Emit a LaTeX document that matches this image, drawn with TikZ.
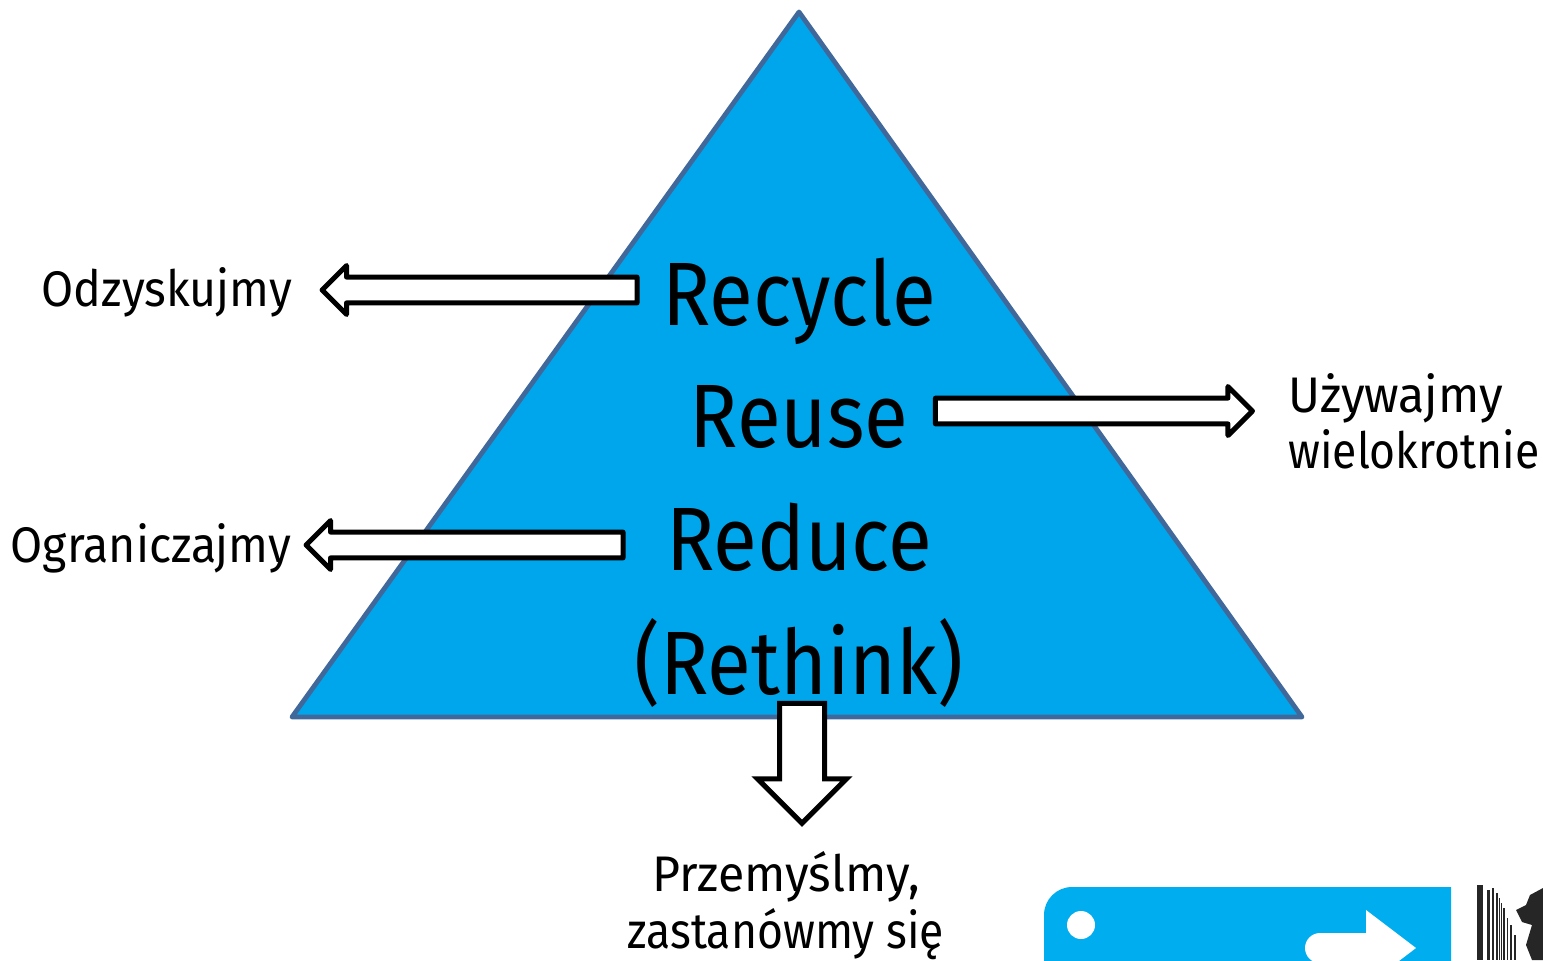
\documentclass[tikz,border=0pt]{standalone}
\usepackage{fontspec}
\setmainfont[FakeStretch=0.89]{Fira Sans}
\newfontfamily\labelfont[FakeStretch=0.93]{Fira Sans}
\newfontfamily\narrowlabel[FakeStretch=0.89]{Fira Sans}
\newfontfamily\widelabel[FakeStretch=0.965]{Fira Sans}
\usepackage{tikz}
\usetikzlibrary{positioning,shapes.arrows}
\definecolor{triblue}{HTML}{00A6EB}
\definecolor{triline}{HTML}{41689A}
\definecolor{logoblue}{HTML}{00ADEF}
\tikzset{
  bigtext/.style={font=\fontsize{45}{45}\selectfont,inner sep=0pt,anchor=base},
  smalltext/.style={font=\labelfont\fontsize{25}{28}\selectfont,inner sep=0pt,anchor=base},
  narrowtext/.style={font=\narrowlabel\fontsize{25}{28}\selectfont,inner sep=0pt,anchor=base},
  widetext/.style={font=\widelabel\fontsize{25}{28}\selectfont,inner sep=0pt,anchor=base},
  blockarrow/.style={single arrow,draw=black,fill=white,line width=2.5pt,inner sep=5.2pt,outer sep=0pt,
    minimum width=21.5pt,single arrow head extend=5.8pt,single arrow head indent=0pt}
}
\begin{document}
\begin{tikzpicture}[x=.5pt,y=-.5pt]
\useasboundingbox (0,0) rectangle (1543,960);
\clip (0,0) rectangle (1543,960);
\coordinate (apex) at (799,12);
\coordinate (left) at (292,717);
\coordinate (right) at (1302,717);
\fill[triblue] (apex) -- (left) -- (right) -- cycle;
\draw[triline,line width=2.4pt,line join=round] (apex) -- (left) -- (right) -- cycle;
\node[bigtext] (recycle) at (799,325) {Recycle};
\node[bigtext] (reuse) at (799,447) {Reuse};
\node[bigtext] (reduce) at (799,570) {Reduce};
\node[bigtext] (rethink) at (799,694) {(Rethink)};
\node[blockarrow,minimum height=157.5pt,shape border rotate=180,line join=round] (arrowodz) at (486,290) {};
\node[blockarrow,minimum height=158.5pt,line join=round] (arrowuzy) at (1087.5,411) {};
\node[blockarrow,minimum height=158.5pt,shape border rotate=180,line join=round] (arrowogr) at (471,545) {};
\node[blockarrow,minimum height=60pt,shape border rotate=270,inner sep=10pt,minimum width=42pt,single arrow head extend=11pt] (arrowprz) at (802,752) {};
\node[smalltext] (odz) at (167,306) {Odzyskujmy};
\node[smalltext] (ogr) at (151,562) {Ograniczajmy};
\node[widetext,anchor=base west] (uzy) at (1288,412) {Używajmy};
\node[narrowtext,anchor=base west] (wie) at (1288,468) {wielokrotnie};
\node[widetext] (prz) at (786,891) {Przemyślmy,};
\node[narrowtext] (zas) at (786,948) {zastanówmy się};
\fill[logoblue] (1451,1000) -- (1044,1000) -- (1044,915) arc[start angle=180,end angle=90,radius=14pt] -- (1451,887) -- cycle;
\fill[white] (1081,925) circle[radius=7pt];
\fill[white] (1320,933) -- (1366,933) -- (1366,910) -- (1416,948) -- (1366,986) -- (1366,963) -- (1320,963) arc[start angle=270,end angle=90,radius=7.5pt];
\foreach \xa/\xb/\ya in {1477/1483/885,1487/1490/890,1492/1494/888,1496/1498/893,1499/1500/898,1501/1502/903,1503/1505/908,1507/1508/918,1510/1512/925,1514/1516/935}
  \fill[black!85] (\xa,\ya) rectangle (\xb,960);
\fill[black!85] (1543,888) -- (1530,895) -- (1526,905) -- (1516,910) -- (1522,922) -- (1532,925) -- (1526,945) -- (1532,960) -- (1543,960) -- cycle;
\end{tikzpicture}
\end{document}
